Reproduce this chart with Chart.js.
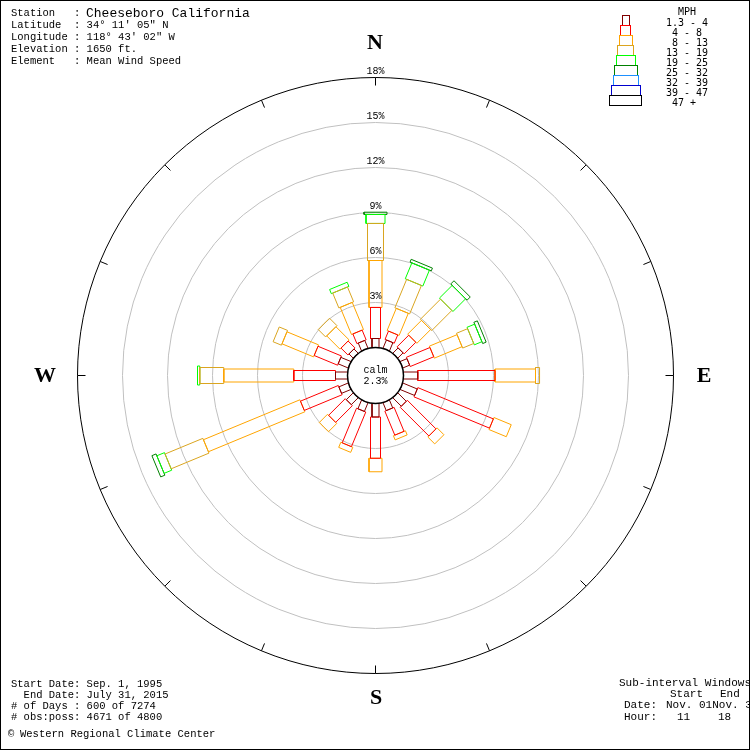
<!DOCTYPE html>
<html>
<head>
<meta charset="utf-8">
<script src="https://cdn.jsdelivr.net/npm/chart.js@4.4.1/dist/chart.umd.min.js"></script>
<style>
    html, body { margin: 0; padding: 0; background: #fff; }
    canvas { display: block; }
</style>
</head>
<body>
<canvas id="rose" width="750" height="750"></canvas>
<script>
// wind directions, clockwise from north
const directions = ['N', 'NNE', 'NE', 'ENE', 'E', 'ESE', 'SE', 'SSE', 'S', 'SSW', 'SW', 'WSW', 'W', 'WNW', 'NW', 'NNW'];
const speedClasses = ['1.3 - 4', '4 - 8', '8 - 13', '13 - 19', '19 - 25', '25 - 32', '32 - 39', '39 - 47', '47 +'];

// percent of observations for each direction, one array per speed class (mph)
const mph1to4   = [0.60, 0.60, 0.50, 0.50, 0.95, 1.05, 0.80, 0.57, 0.90, 0.63, 0.65, 0.68, 0.80, 0.73, 0.40, 0.57];
const mph4to8   = [2.07, 0.60, 1.10, 1.70, 5.15, 5.45, 2.70, 1.73, 2.75, 2.50, 1.57, 2.73, 2.78, 1.69, 0.65, 0.70];
const mph8to13  = [3.13, 1.60, 1.30, 2.00, 2.70, 1.25, 0.65, 0.30, 0.90, 0.37, 0.78, 6.96, 4.67, 2.28, 1.25, 1.96];
const mph13to19 = [2.47, 2.05, 1.90, 0.80, 0.27, 0, 0, 0, 0, 0, 0, 2.73, 1.60, 0.60, 0.70, 1.07];
const mph19to25 = [0.60, 1.15, 1.20, 0.55, 0, 0, 0, 0, 0, 0, 0, 0.55, 0.15, 0, 0, 0.30];
const mph25to32 = [0.15, 0.20, 0.30, 0.25, 0, 0, 0, 0, 0, 0, 0, 0.30, 0, 0, 0, 0];
const mph32to39 = [0, 0, 0, 0, 0, 0, 0, 0, 0, 0, 0, 0, 0, 0, 0, 0];
const mph39to47 = [0, 0, 0, 0, 0, 0, 0, 0, 0, 0, 0, 0, 0, 0, 0, 0];
const mph47plus = [0, 0, 0, 0, 0, 0, 0, 0, 0, 0, 0, 0, 0, 0, 0, 0];

const calmPercent = 2.3;
const ringValues = [3, 6, 9, 12, 15, 18];
const ringLabels = ['3%', '6%', '9%', '12%', '15%', '18%'];
const legendLabels = ['1.3 - 4', ' 4 - 8', ' 8 - 13', '13 - 19', '19 - 25', '25 - 32', '32 - 39', '39 - 47', ' 47 +'];

const headerLines = [
    ['Station   : ', 'Cheeseboro California'],
    ['Latitude  : 34\u00b0 11\' 05" N'],
    ['Longitude : 118\u00b0 43\' 02" W'],
    ['Elevation : 1650 ft.'],
    ['Element   : Mean Wind Speed']
];
const footerLines = ['Start Date: Sep. 1, 1995', '  End Date: July 31, 2015', '# of Days : 600 of 7274', '# obs:poss: 4671 of 4800'];

// styles
const classColors = ['#800000', '#ff0000', '#ffa500', '#daa520', '#00ff00', '#008000', '#1e90ff', '#0000cd', '#000000'];
const classWidths = [7, 10, 13, 16, 19, 23, 25, 29, 32]; // px
const PX_PER_UNIT = 15;
const CALM_R = 28 / PX_PER_UNIT;

const seriesByClass = [mph1to4, mph4to8, mph8to13, mph13to19, mph19to25, mph25to32, mph32to39, mph39to47, mph47plus];

const datasets = [];
directions.forEach((dir, i) => {
    const a = i * Math.PI / 8;
    const ux = Math.sin(a), uy = Math.cos(a);
    const px = Math.cos(a), py = -Math.sin(a);
    let r0 = CALM_R;
    seriesByClass.forEach((series, k) => {
        const v = series[i];
        if (!v) return;
        const r1 = r0 + v;
        const hw = classWidths[k] / PX_PER_UNIT / 2;
        const pts = [
            { x: r0 * ux + hw * px, y: r0 * uy + hw * py },
            { x: r1 * ux + hw * px, y: r1 * uy + hw * py },
            { x: r1 * ux - hw * px, y: r1 * uy - hw * py },
            { x: r0 * ux - hw * px, y: r0 * uy - hw * py },
            { x: r0 * ux + hw * px, y: r0 * uy + hw * py }
        ];
        datasets.push({
            label: dir + ' ' + speedClasses[k],
            data: pts,
            showLine: true,
            borderColor: classColors[k],
            borderWidth: 1,
            pointRadius: 0,
            fill: false
        });
        r0 = r1;
    });
});

const monoFont = '"Liberation Mono", "DejaVu Sans Mono", monospace';

const roseFrame = {
    id: 'roseFrame',
    beforeDatasetsDraw(chart) {
        const ctx = chart.ctx;
        const xs = chart.scales.x, ys = chart.scales.y;
        const cx = xs.getPixelForValue(0), cy = ys.getPixelForValue(0);
        ctx.save();
        ctx.lineWidth = 1;
        ringValues.forEach((v, i) => {
            const r = xs.getPixelForValue(CALM_R + v) - cx;
            ctx.strokeStyle = i === ringValues.length - 1 ? '#000' : '#c0c0c0';
            ctx.beginPath();
            ctx.arc(cx, cy, r, 0, Math.PI * 2);
            ctx.stroke();
        });
        // ticks on the outer ring
        const rOut = xs.getPixelForValue(CALM_R + ringValues[ringValues.length - 1]) - cx;
        ctx.strokeStyle = '#000';
        directions.forEach((d, i) => {
            const a = i * Math.PI / 8;
            ctx.beginPath();
            ctx.moveTo(cx + rOut * Math.sin(a), cy - rOut * Math.cos(a));
            ctx.lineTo(cx + (rOut - 8) * Math.sin(a), cy - (rOut - 8) * Math.cos(a));
            ctx.stroke();
        });
        ctx.restore();
    },
    afterDatasetsDraw(chart) {
        const ctx = chart.ctx;
        const xs = chart.scales.x, ys = chart.scales.y;
        const cx = xs.getPixelForValue(0), cy = ys.getPixelForValue(0);
        const calmR = xs.getPixelForValue(CALM_R) - cx;
        ctx.save();

        // calm circle
        ctx.fillStyle = '#fff';
        ctx.strokeStyle = '#000';
        ctx.lineWidth = 1.5;
        ctx.beginPath();
        ctx.arc(cx, cy, calmR, 0, Math.PI * 2);
        ctx.fill();
        ctx.stroke();
        ctx.fillStyle = '#000';
        ctx.font = '10px ' + monoFont;
        ctx.textAlign = 'center';
        ctx.textBaseline = 'alphabetic';
        ctx.fillText('calm', cx, cy - 3);
        ctx.fillText(calmPercent.toFixed(1) + '%', cx, cy + 8);

        // ring labels
        ringValues.forEach((v, i) => {
            const yy = ys.getPixelForValue(CALM_R + v);
            ctx.fillText(ringLabels[i], cx, yy - 4);
        });

        // compass letters
        ctx.font = 'bold 22px "Liberation Serif", "DejaVu Serif", serif';
        ctx.textBaseline = 'middle';
        ctx.fillText('N', 375, 43);
        ctx.fillText('E', 704, 376);
        ctx.fillText('S', 376, 698);
        ctx.fillText('W', 45, 376);

        // header block
        ctx.textAlign = 'left';
        ctx.textBaseline = 'alphabetic';
        headerLines.forEach((line, i) => {
            ctx.font = '10.5px ' + monoFont;
            ctx.fillText(line[0], 11, 16 + i * 12);
            if (line[1]) {
                ctx.font = '13px ' + monoFont;
                ctx.fillText(line[1], 86, 17);
            }
        });

        // footer block
        ctx.font = '10.5px ' + monoFont;
        footerLines.forEach((line, i) => {
            ctx.fillText(line, 11, 687 + i * 11);
        });
        ctx.fillText('\u00a9', 8, 737);
        ctx.fillText('Western Regional Climate Center', 20, 737);

        // sub-interval block
        ctx.font = '11px ' + monoFont;
        ctx.fillText('Sub-interval Windows', 619, 686);
        ctx.fillText('Start', 670, 697);
        ctx.fillText('End', 720, 697);
        ctx.fillText('Date:', 624, 708);
        ctx.fillText('Nov. 01Nov. 30', 666, 708);
        ctx.fillText('Hour:', 624, 720);
        ctx.fillText('11', 677, 720);
        ctx.fillText('18', 718, 720);

        // speed legend
        ctx.font = '10px "DejaVu Sans Mono", monospace';
        ctx.fillText('  MPH', 666, 15);
        ctx.lineWidth = 1;
        speedClasses.forEach((s, k) => {
            const w = classWidths[k];
            ctx.strokeStyle = classColors[k];
            ctx.strokeRect(Math.round(625 - w / 2) + 0.5, 15.5 + k * 10, w, 10);
            ctx.fillText(legendLabels[k], 666, 26 + k * 10);
        });

        // frame
        ctx.strokeStyle = '#000';
        ctx.strokeRect(0.5, 0.5, 749, 749);
        ctx.restore();
    }
};

new Chart(document.getElementById('rose'), {
    type: 'scatter',
    data: { datasets },
    options: {
        responsive: false,
        animation: false,
        devicePixelRatio: 1,
        layout: { padding: 0 },
        plugins: { legend: { display: false }, tooltip: { enabled: false } },
        scales: {
            // half-pixel offset keeps the axis-aligned bar edges crisp
            x: { type: 'linear', min: -375.5 / PX_PER_UNIT, max: 374.5 / PX_PER_UNIT, display: false },
            y: { type: 'linear', min: -374.5 / PX_PER_UNIT, max: 375.5 / PX_PER_UNIT, display: false }
        }
    },
    plugins: [roseFrame]
});
</script>
</body>
</html>
